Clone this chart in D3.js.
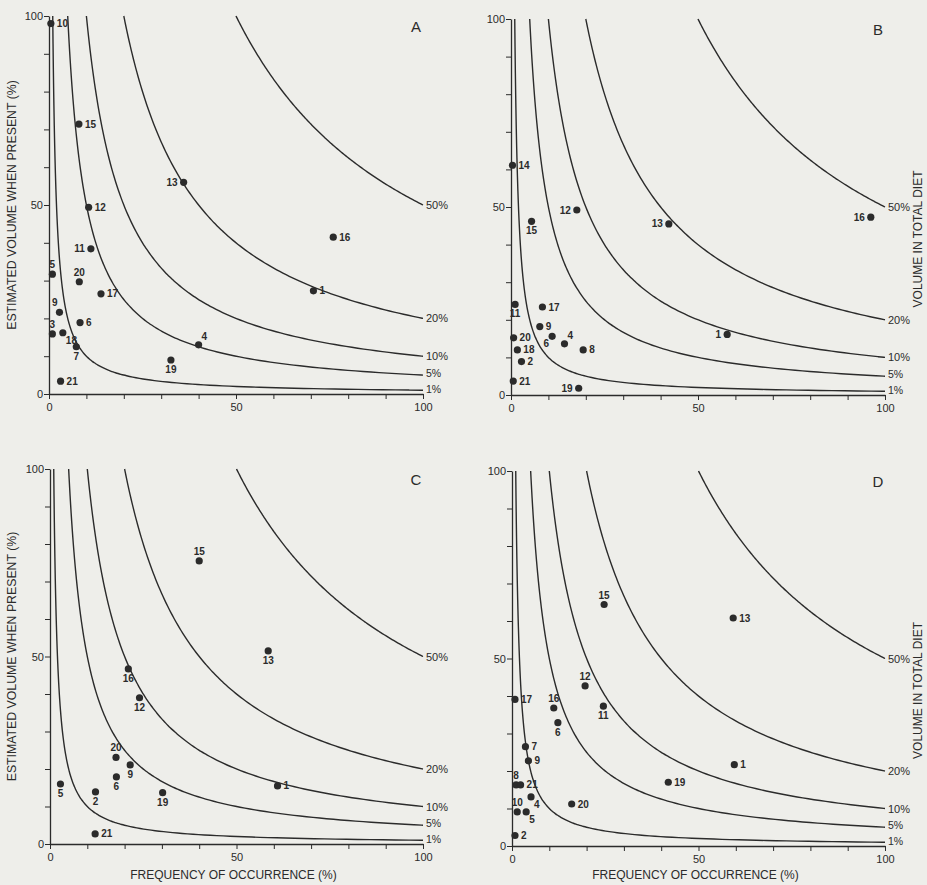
<!DOCTYPE html>
<meta charset="utf-8">
<style>
  body { margin: 0; background: #eeeeea; }
  text { font-family: "Liberation Sans", Arial, sans-serif; fill: #2b2b2b; }
</style>
<body>
<script src="https://d3js.org/d3.v7.min.js"></script>
<script>
  // isolines: volume in total diet (%)
  const isoPcts = [1, 5, 10, 20, 50];
  const tickVals = d3.range(0, 101, 10);
  const tickLabels = [0, 50, 100];

  // panel A
  const idsA  = [10, 15, 13, 12, 11, 5, 20, 17, 9, 6, 3, 18, 7, 4, 19, 21, 16, 1];
  const freqA = [0.5, 8, 36, 10.6, 11.2, 0.9, 8.1, 13.9, 2.8, 8.3, 0.9, 3.7, 7.3, 40, 32.6, 3.1, 76, 70.7];
  const volA  = [98, 71.4, 56, 49.4, 38.4, 31.7, 29.7, 26.5, 21.6, 18.9, 15.9, 16.2, 12.5, 13, 9, 3.4, 41.5, 27.3];
  const labA  = ["r","r","l","r","l","a","a","r","al","r","a","br","b","ar","b","r","r","r"];

  // panel B
  const idsB  = [14, 12, 15, 13, 11, 17, 9, 6, 4, 20, 18, 8, 2, 21, 19, 1, 16];
  const freqB = [0.4, 17.6, 5.5, 42.2, 1.1, 8.4, 7.7, 11, 14.3, 0.7, 1.7, 19.3, 2.8, 0.6, 18.1, 57.8, 96.2];
  const volB  = [61.1, 49.2, 46.2, 45.5, 24.1, 23.4, 18.2, 15.6, 13.6, 15.2, 12, 12, 8.9, 3.7, 1.8, 16.1, 47.3];
  const labB  = ["r","l","b","l","b","r","r","bl","ar","r","r","r","r","r","l","l","l"];

  // panel C
  const idsC  = [15, 13, 16, 12, 20, 9, 6, 5, 2, 19, 1, 21];
  const freqC = [40, 58.5, 21, 24, 17.7, 21.5, 17.8, 2.8, 12.2, 30.2, 61, 12.1];
  const volC  = [75.5, 51.5, 46.7, 39, 23.1, 21.1, 17.9, 16, 13.9, 13.7, 15.5, 2.7];
  const labC  = ["a","b","b","b","a","b","b","b","b","b","r","r"];

  // panel D
  const idsD  = [15, 13, 12, 11, 17, 16, 6, 7, 9, 1, 19, 8, 21, 4, 20, 10, 5, 2];
  const freqD = [24.7, 59.3, 19.6, 24.5, 0.8, 11.2, 12.3, 3.6, 4.4, 59.6, 41.9, 1.1, 2.3, 5.1, 16, 1.4, 3.8, 0.8];
  const volD  = [64.4, 60.8, 42.7, 37.3, 39.1, 36.8, 32.9, 26.5, 22.7, 21.7, 17, 16.3, 16.3, 13.1, 11.2, 9.1, 9.1, 2.8];
  const labD  = ["a","r","a","b","r","a","b","r","r","r","r","a","r","br","r","a","br","r"];

  const ink = "#2b2b2b";
  const W = 927, H = 885;

  const svg = d3.select("body").append("svg")
    .attr("width", W).attr("height", H);

  svg.append("rect").attr("width", W).attr("height", H).attr("fill", "#eeeeea");

  const panels = [
    { name: "A", ids: idsA, f: freqA, v: volA, lab: labA, x: [49, 423], y: [394, 16], left: true,  bottom: false },
    { name: "B", ids: idsB, f: freqB, v: volB, lab: labB, x: [511, 885], y: [395, 19], left: false, bottom: false },
    { name: "C", ids: idsC, f: freqC, v: volC, lab: labC, x: [50, 423], y: [844, 469], left: true,  bottom: true },
    { name: "D", ids: idsD, f: freqD, v: volD, lab: labD, x: [512, 885], y: [846, 471], left: false, bottom: true }
  ];

  const offs = {
    r:  [6, 3.5, "start"],
    l:  [-6, 3.5, "end"],
    a:  [0, -6, "middle"],
    b:  [0, 13, "middle"],
    al: [-2, -6, "end"],
    ar: [3, -5, "start"],
    br: [3, 11, "start"],
    bl: [-3, 11, "end"]
  };

  // label nudge for each isoline end, so 5% and 1% do not collide
  const isoNudge = { 1: 2.5, 5: 2, 10: 4, 20: 4, 50: 4 };

  panels.forEach(p => {
    const x = d3.scaleLinear().domain([0, 100]).range(p.x);
    const y = d3.scaleLinear().domain([0, 100]).range(p.y);
    const g = svg.append("g");

    // axes
    const fmt = d => tickLabels.includes(d) ? d : "";
    const yAx = g.append("g").attr("transform", `translate(${p.x[0]},0)`)
      .call(d3.axisLeft(y).tickValues(tickVals).tickFormat(fmt).tickSize(5).tickSizeOuter(0));
    const xAx = g.append("g").attr("transform", `translate(0,${p.y[0]})`)
      .call(d3.axisBottom(x).tickValues(tickVals).tickFormat(fmt).tickSize(5).tickSizeOuter(0));
    [xAx, yAx].forEach(a => {
      a.select(".domain").attr("stroke", ink).attr("stroke-width", 1.3);
      a.selectAll(".tick line").attr("stroke", ink).attr("stroke-width", 1);
      a.selectAll(".tick text").attr("fill", ink).style("fill", ink).style("font-size", "11px");
    });
    yAx.selectAll(".tick text").attr("x", -6);
    xAx.selectAll(".tick text").attr("y", 9);

    // isolines x * y = 100 * pct
    const line = d3.line().x(d => x(d[0])).y(d => y(d[1])).curve(d3.curveBasis);
    isoPcts.forEach(pc => {
      const lo = Math.log(pc), hi = Math.log(100);
      const pts = d3.range(0, 121).map(i => {
        const fx = Math.exp(lo + (hi - lo) * i / 120);
        return [fx, 100 * pc / fx];
      });
      g.append("path").attr("d", line(pts))
        .attr("fill", "none").attr("stroke", ink).attr("stroke-width", 1.4);
      g.append("text")
        .attr("x", x(100) + 3).attr("y", y(pc) + isoNudge[pc])
        .style("font-size", pc <= 5 ? "10.5px" : "11px").text(pc + "%");
    });

    // points
    const pts = p.ids.map((id, i) => ({ id, f: p.f[i], v: p.v[i], lab: p.lab[i] }));
    g.selectAll("circle.pt").data(pts).join("circle")
      .attr("class", "pt")
      .attr("cx", d => x(d.f)).attr("cy", d => y(d.v))
      .attr("r", 3.6).attr("fill", ink);
    g.selectAll("text.pl").data(pts).join("text")
      .attr("class", "pl")
      .attr("x", d => x(d.f) + offs[d.lab][0])
      .attr("y", d => y(d.v) + offs[d.lab][1])
      .attr("text-anchor", d => offs[d.lab][2])
      .style("font-size", "10px").style("font-weight", "bold")
      .text(d => d.id);

    // panel letter
    g.append("text").attr("x", p.x[1] - 7).attr("y", p.y[1] + 16)
      .attr("text-anchor", "middle").style("font-size", "15px").text(p.name);

    const midY = (p.y[0] + p.y[1]) / 2;
    if (p.left) {
      g.append("text")
        .attr("transform", `translate(16,${midY}) rotate(-90)`)
        .attr("text-anchor", "middle").style("font-size", "12.3px")
        .text("ESTIMATED VOLUME WHEN PRESENT (%)");
    } else {
      g.append("text")
        .attr("transform", `translate(922,${midY + 32}) rotate(-90)`)
        .attr("text-anchor", "middle").style("font-size", "12px")
        .text("VOLUME IN TOTAL DIET");
    }
    if (p.bottom) {
      g.append("text")
        .attr("x", (p.x[0] + p.x[1]) / 2 - 3).attr("y", 879)
        .attr("text-anchor", "middle").style("font-size", "12px")
        .text("FREQUENCY OF OCCURRENCE (%)");
    }
  });
</script>
</body>
